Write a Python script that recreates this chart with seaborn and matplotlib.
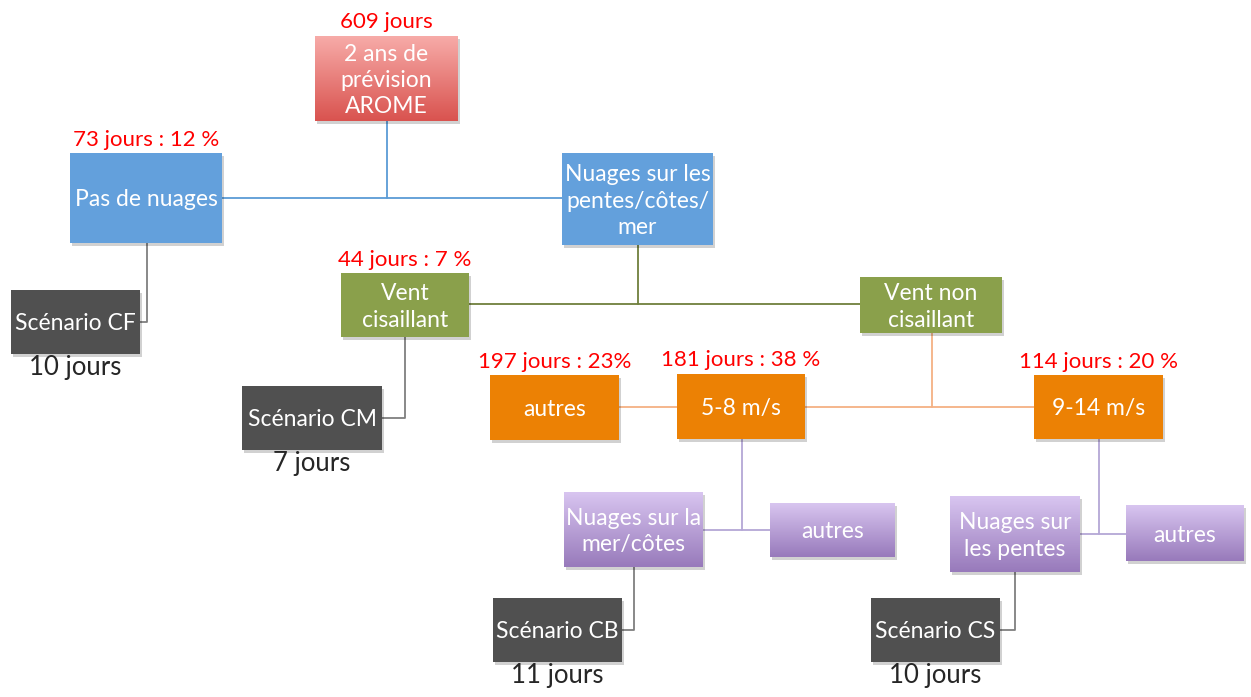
import numpy as np
import matplotlib.pyplot as plt
import seaborn as sns
from matplotlib.patches import Rectangle
from matplotlib.colors import LinearSegmentedColormap

sns.set_theme(style="white")
plt.rcParams['font.family'] = ['Lato', 'DejaVu Sans']

# node texts
node_texts = ["2 ans de\nprévision\nAROME", "Pas de nuages", "Nuages sur les\npentes/côtes/\nmer",
              "Scénario CF", "Vent\ncisaillant", "Vent non\ncisaillant", "Scénario CM",
              "autres", "5-8 m/s", "9-14 m/s", "Nuages sur la\nmer/côtes", "autres",
              "Nuages sur\nles pentes", "autres", "Scénario CB", "Scénario CS"]
# red counts above some nodes
count_labels = ["609 jours", "73 jours : 12 %", "", "", "44 jours : 7 %", "", "",
                "197 jours : 23%", "181 jours : 38 %", "114 jours : 20 %", "", "", "", "", "", ""]
# days under scenario boxes
scenario_days = {3: "10 jours", 6: "7 jours", 14: "11 jours", 15: "10 jours"}

# layout (pixels): x0, y0, x1, y1, style
layout = [
    (315, 36, 458, 121, "pink"),
    (70, 153, 222, 243, "blue"),
    (562, 153, 713, 245, "blue"),
    (11, 290, 140, 354, "gray"),
    (341, 273, 469, 337, "green"),
    (860, 277, 1002, 333, "green"),
    (242, 386, 382, 450, "gray"),
    (490, 375, 619, 440, "orange"),
    (677, 374, 805, 439, "orange"),
    (1034, 375, 1163, 439, "orange"),
    (564, 492, 703, 567, "purple"),
    (770, 503, 895, 557, "purple"),
    (950, 496, 1080, 572, "purple"),
    (1126, 505, 1244, 561, "purple"),
    (493, 598, 622, 662, "gray"),
    (871, 598, 1000, 662, "gray"),
]

fills = {"blue": "#63a0dc", "green": "#8aa04b", "orange": "#ec8104", "gray": "#505050"}
gradients = {"pink": ("#f7aba8", "#d9534f"), "purple": ("#d8c5f0", "#987abb")}

# connectors: list of polylines (x list, y list, color)
connectors = [
    ([387, 387], [121, 198], "#5b9bd5"),
    ([222, 562], [198, 198], "#5b9bd5"),
    ([147, 147, 140], [243, 322, 322], "#7f7f7f"),
    ([638, 638], [245, 304], "#6f7f3d"),
    ([469, 860], [304, 304], "#6f7f3d"),
    ([405, 405, 382], [337, 418, 418], "#7f7f7f"),
    ([932, 932], [333, 407], "#f4b183"),
    ([619, 1034], [407, 407], "#f4b183"),
    ([742, 742], [439, 530], "#b4a7d6"),
    ([703, 770], [530, 530], "#b4a7d6"),
    ([1099, 1099], [439, 534], "#b4a7d6"),
    ([1080, 1126], [534, 534], "#b4a7d6"),
    ([634, 634, 622], [567, 630, 630], "#7f7f7f"),
    ([1015, 1015, 1000], [572, 630, 630], "#7f7f7f"),
]

fig = plt.figure(figsize=(12.51, 6.97), dpi=100)
ax = fig.add_axes([0, 0, 1, 1])
ax.set_xlim(0, 1251)
ax.set_ylim(697, 0)
ax.axis("off")

for xs, ys, c in connectors:
    ax.plot(xs, ys, color=c, lw=1.3, zorder=1)

for i, (x0, y0, x1, y1, st) in enumerate(layout):
    # soft shadow
    ax.add_patch(Rectangle((x0 + 2, y0 + 3), x1 - x0, y1 - y0, color="#000000", alpha=0.18, lw=0, zorder=2))
    if st in gradients:
        cmap = LinearSegmentedColormap.from_list(st, gradients[st])
        grad = np.linspace(0, 1, 100).reshape(-1, 1)
        ax.imshow(grad, cmap=cmap, extent=(x0, x1, y1, y0), aspect="auto", zorder=3)
    else:
        ax.add_patch(Rectangle((x0, y0), x1 - x0, y1 - y0, color=fills[st], lw=0, zorder=3))
    ax.text((x0 + x1) / 2, (y0 + y1) / 2 + 2, node_texts[i], color="white", fontsize=16.5,
            ha="center", va="center", linespacing=1.32, zorder=4)
    if count_labels[i]:
        ax.text((x0 + x1) / 2, y0 - 3.5, count_labels[i], color="#ff0000", fontsize=16,
                ha="center", va="bottom", zorder=4)
    if i in scenario_days:
        ax.text((x0 + x1) / 2, y1 + 1, scenario_days[i], color="#262626", fontsize=18.5,
                ha="center", va="top", zorder=4)

ax.set_xlim(0, 1251)
ax.set_ylim(697, 0)
fig.savefig("out.png", dpi=100)
